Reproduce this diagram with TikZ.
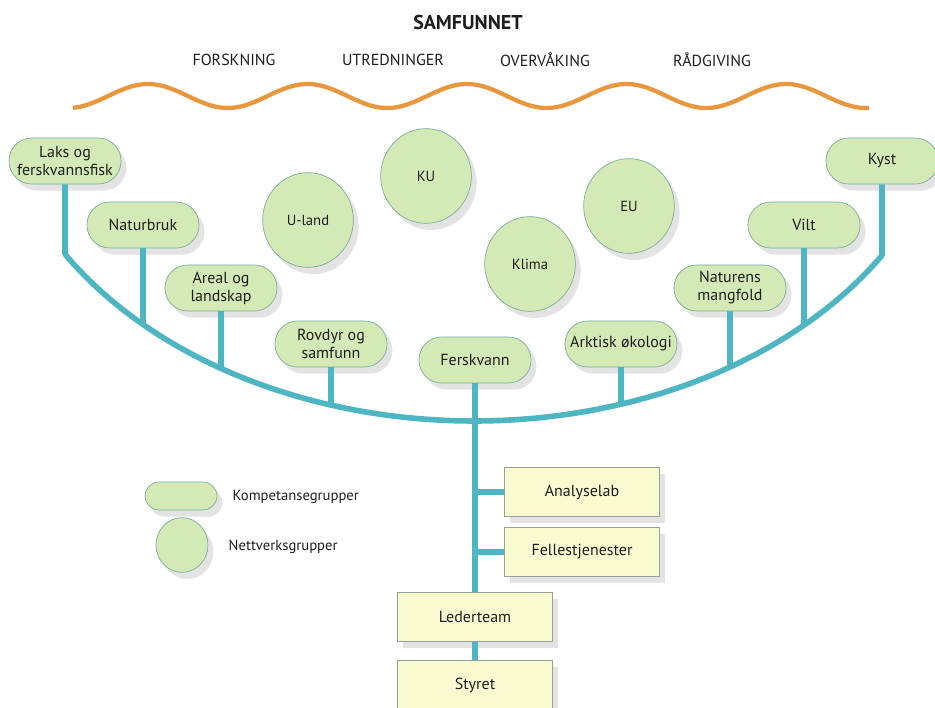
\documentclass[tikz,border=0pt]{standalone}
\usepackage{fontspec}
\setmainfont{PT Sans}
\usetikzlibrary{shapes.geometric,shadows}
\definecolor{pillgreen}{RGB}{212,234,182}
\definecolor{pillborder}{RGB}{118,172,150}
\definecolor{tealc}{RGB}{77,182,194}
\definecolor{wavec}{RGB}{232,151,60}
\definecolor{boxyellow}{RGB}{250,250,208}
\definecolor{boxborder}{RGB}{150,160,150}
\definecolor{txt}{RGB}{30,30,30}
\tikzset{
  shad/.style={drop shadow={opacity=0.22, shadow xshift=4pt, shadow yshift=-5pt}},
  pill/.style={draw=pillborder, line width=0.5pt, fill=pillgreen, rounded corners=17pt,
    minimum width=84pt, minimum height=34.5pt, align=center, inner sep=2pt,
    font=\fontsize{12}{13.5}\selectfont, text=txt, shad},
  netw/.style={ellipse, draw=pillborder, line width=0.5pt, fill=pillgreen,
    minimum width=68pt, minimum height=71pt, inner sep=1pt,
    font=\fontsize{11}{13}\selectfont, text=txt, shad},
  orgbox/.style={draw=boxborder, line width=0.5pt, fill=boxyellow,
    minimum width=116pt, minimum height=37pt, inner sep=2pt,
    font=\fontsize{12}{14}\selectfont, text=txt, shad},
  tealline/.style={draw=tealc, line width=4.2pt, line join=round},
  head/.style={font=\fontsize{12}{14}\selectfont, text=txt},
  legtext/.style={font=\fontsize{11}{13}\selectfont, text=txt, anchor=west},
}
\begin{document}
\begin{tikzpicture}[x=0.75pt,y=-0.75pt]
\useasboundingbox (0,0) rectangle (935,707);
\fill[white] (0,0) rectangle (935,707);

% header
\node[font=\bfseries\fontsize{15}{17}\selectfont, text=txt] (title) at (468,22) {SAMFUNNET};
\node[head] (forsk) at (234,60) {FORSKNING};
\node[head] (utred) at (393,60) {UTREDNINGER};
\node[head] (overv) at (545,60) {OVERVÅKING};
\node[head] (radg) at (712,60) {RÅDGIVING};
\draw[wavec, line width=3.2pt]
  plot[domain=73:869, samples=240, smooth] (\x, {96-12*cos(2.257*(\x-148))});

% network groups
\node[netw] (ku) at (426,176) {KU};
\node[netw] (uland) at (308,220) {U-land};
\node[netw] (klima) at (530,264) {Klima};
\node[netw] (eu) at (629,206) {EU};

% competence groups
\node[pill] (laks) at (65,161) {Laks og\\ferskvannsfisk};
\node[pill] (natur) at (143,225) {Naturbruk};
\node[pill] (areal) at (221,288) {Areal og\\landskap};
\node[pill] (rovdyr) at (331,344) {Rovdyr og\\samfunn};
\node[pill] (fersk) at (475,360) {Ferskvann};
\node[pill] (arktisk) at (621,344) {Arktisk økologi};
\node[pill] (mangf) at (730,288) {Naturens\\mangfold};
\node[pill] (vilt) at (804,225) {Vilt};
\node[pill] (kyst) at (882,161) {Kyst};

% org boxes
\node[orgbox] (anal) at (582,492) {Analyselab};
\node[orgbox] (felles) at (582,552) {Fellestjenester};
\node[orgbox] (leder) at (475,617) {Lederteam};
\node[orgbox] (styret) at (475,685) {Styret};

% legend
\node[pill, minimum width=54pt, minimum height=21pt, rounded corners=10.5pt] (legpill) at (181,496) {};
\node[netw, minimum width=39pt, minimum height=41pt] (legcirc) at (182,545) {};
\node[legtext] (legpilltext) at (228,497) {Kompetansegrupper};
\node[legtext] (legcirctext) at (224,547) {Nettverksgrupper};

% junction coordinates on the arc
\coordinate (laksj) at (65,254.2);
\coordinate (kystj) at (882,255.4);
\coordinate (naturj) at (143,324.5);
\coordinate (arealj) at (221,368.4);
\coordinate (rovdyrj) at (331,405.1);
\coordinate (arktiskj) at (621,404.2);
\coordinate (mangfj) at (730,367);
\coordinate (viltj) at (804,325);

% connectors
\draw[tealline] (laks.south) -- (laksj)
  -- plot[domain=148.44:31.79, samples=120, smooth, variable=\t] ({474+480*cos(\t)}, {71+350*sin(\t)})
  -- (kystj) -- (kyst.south);
\draw[tealline] (natur.south) -- (naturj);
\draw[tealline] (areal.south) -- (arealj);
\draw[tealline] (rovdyr.south) -- (rovdyrj);
\draw[tealline] (arktisk.south) -- (arktiskj);
\draw[tealline] (mangf.south) -- (mangfj);
\draw[tealline] (vilt.south) -- (viltj);
\draw[tealline] (fersk.south) -- (leder.north);
\coordinate (bA) at (fersk.south |- anal.west);
\coordinate (bF) at (fersk.south |- felles.west);
\draw[tealline] (bA) -- (anal.west);
\draw[tealline] (bF) -- (felles.west);
\draw[tealline] (leder.south) -- (styret.north);
\end{tikzpicture}
\end{document}
